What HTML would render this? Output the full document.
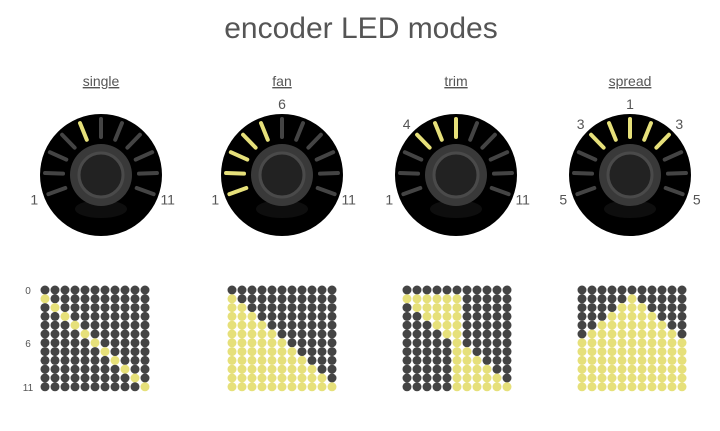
<!DOCTYPE html>
<html><head><meta charset="utf-8"><style>
body{margin:0;background:#fff;width:720px;height:426px;overflow:hidden}
svg text{font-family:"Liberation Sans","DejaVu Sans",sans-serif;fill:#555}
</style></head><body>
<svg id="c" width="720" height="426">
<text x="361" y="38" text-anchor="middle" font-size="30">encoder LED modes</text>
</svg>
<script>
const modes = ["single","fan","trim","spread"];
const litTicks = [[5],[1,2,3,4,5],[4,5,6],[4,5,6,7,8]];
const knobLabels = [
  [["1",1],["11",11]],
  [["1",1],["6",6],["11",11]],
  [["1",1],["4",4],["11",11]],
  [["5",1],["3",4],["1",6],["3",8],["5",11]]
];
const rowTicks = ["0","6","11"];
const rowTickIdx = [0,6,11];
const knobX = [101,282,456,630], knobY = 175;
const matX = [45,232,407,582], matY = 290;
const svg = document.getElementById('c');
const NS = 'http://www.w3.org/2000/svg';
function mk(t,a,p){const e=document.createElementNS(NS,t);for(const k in a)e.setAttribute(k,a[k]);(p||svg).appendChild(e);return e;}
const YEL='#e6e07a', DK='#444';
function tickAng(i){return (200-(i-1)*22)*Math.PI/180;}
function isLit(m,r,c){
  if(r===0) return false;
  if(m===0) return c===r-1;
  if(m===1) return c<=r-1;
  if(m===2) return r<=6 ? (c>=r-1&&c<=5) : (c>=5&&c<=r-1);
  const h=r-1; return Math.abs(c-5)<=h;
}
modes.forEach((name,m)=>{
  const cx=knobX[m], cy=knobY;
  const t=mk('text',{x:cx,y:86,'text-anchor':'middle','font-size':14,'text-decoration':'underline'});
  t.textContent=name;
  
  
  const g=mk('g',{});
  
  
  mk('circle',{cx,cy,r:61,fill:'#000'},g);
  mk('ellipse',{cx,cy:cy+34,rx:26,ry:9,fill:'#111',opacity:0.8},g);
  mk('circle',{cx,cy,r:31,fill:'#393939'},g);
  mk('circle',{cx,cy,r:22,fill:'#222',stroke:'#4a4a4a','stroke-width':3},g);
  for(let i=1;i<=11;i++){
    const a=tickAng(i), lit=litTicks[m].includes(i);
    const l=mk('line',{x1:cx+38*Math.cos(a),y1:cy-38*Math.sin(a),x2:cx+56*Math.cos(a),y2:cy-56*Math.sin(a),stroke:lit?YEL:DK,'stroke-width':4,'stroke-linecap':'round'},g);
    
    
  }
  knobLabels[m].forEach(([lab,i])=>{
    const a=tickAng(i);
    const lt=mk('text',{x:cx+71*Math.cos(a),y:cy-71*Math.sin(a)+5,'text-anchor':'middle','font-size':14});
    lt.textContent=lab;
    
    
  });
  const mg=mk('g',{});
  
  
  for(let r=0;r<12;r++)for(let c=0;c<11;c++){
    const d=mk('circle',{cx:matX[m]+c*10,cy:matY+r*8.8,r:4.5,fill:isLit(m,r,c)?YEL:DK},mg);
    
    
  }
});
rowTicks.forEach((lab,k)=>{
  const t=mk('text',{x:28,y:matY+rowTickIdx[k]*8.8+4,'text-anchor':'middle','font-size':10});
  t.textContent=lab;
  
  
});
</script>
</body></html>
